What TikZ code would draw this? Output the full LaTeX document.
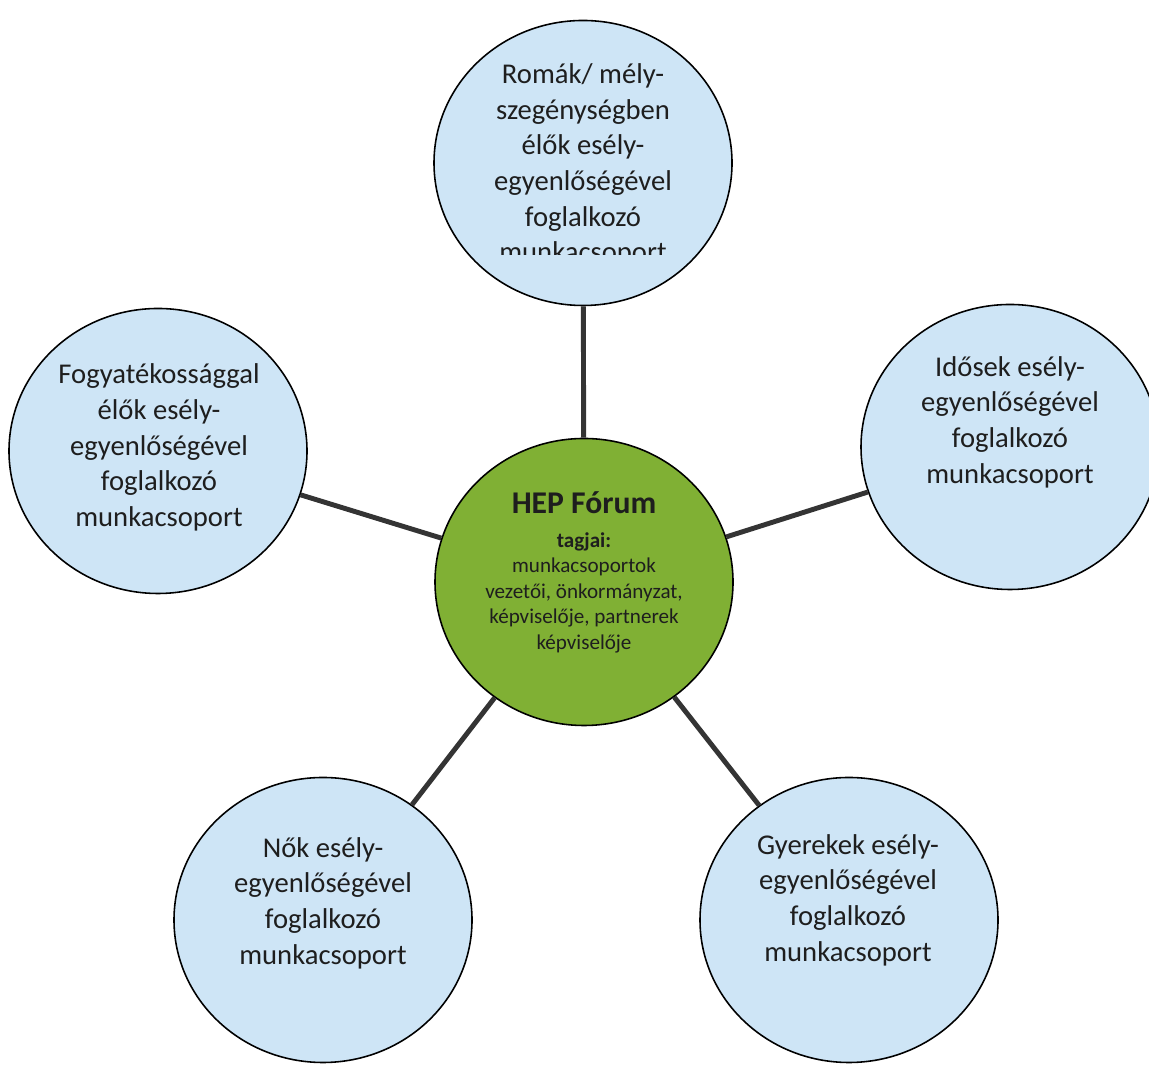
\documentclass[tikz,border=0pt]{standalone}
\usepackage{fontspec}
\setmainfont{Carlito}
\usetikzlibrary{shapes.geometric}

\definecolor{groupBlue}{RGB}{206,229,246}
\definecolor{forumGreen}{RGB}{128,176,52}
\definecolor{linkGray}{RGB}{52,52,52}
\definecolor{textDark}{RGB}{30,30,30}

\tikzset{
	groupCircle/.style={ellipse, draw=black, line width=0.9pt, fill=groupBlue,
		minimum width=5.96cm, minimum height=5.7cm, inner sep=0pt},
	forumCircle/.style={groupCircle, fill=forumGreen, minimum height=5.74cm},
	groupText/.style={align=center, text=textDark, font=\fontsize{16.3}{20.3}\selectfont},
	forumText/.style={align=center, text=textDark, font=\fontsize{12}{14.5}\selectfont},
	linkLine/.style={draw=linkGray, line width=2.8pt}
}

\begin{document}
\begin{tikzpicture}
		\useasboundingbox (0,0) rectangle (22.98,21.4);
		\clip (0,0) rectangle (22.98,21.4);
		% circles
		\node[forumCircle] (forum) at (11.68, 9.76) {};
		\node[groupCircle] (roma) at (11.66, 18.14) {};
		\node[groupCircle] (disabled) at (3.16, 12.38) {};
		\node[groupCircle] (elderly) at (20.2, 12.46) {};
		\node[groupCircle] (women) at (6.46, 3.0) {};
		\node[groupCircle] (children) at (16.98, 3.0) {};
		% links
		\foreach \group in {roma, disabled, elderly, women, children}
			\draw[linkLine] (forum) -- (\group);
		% texts
		\node[forumText] (forumText) at (11.68, 9.96)
			{{\fontsize{18}{18}\selectfont\bfseries HEP Fórum}\\[4.8pt]
			 {\bfseries tagjai:}\\ munkacsoportok\\ vezetői, önkormányzat,\\
			 képviselője, partnerek\\ képviselője};
		\begin{scope}
			\clip (8.5, 16.3) rectangle (14.9, 21.4);
			\node[groupText] (romaText) at (11.66, 18.1)
				{Romák/ mély-\\ szegénységben\\ élők esély-\\ egyenlőségével\\ foglalkozó\\ munkacsoport};
		\end{scope}
		\node[groupText] (disabledText) at (3.18, 12.45)
			{Fogyatékossággal\\ élők esély-\\ egyenlőségével\\ foglalkozó\\ munkacsoport};
		\node[groupText] (elderlyText) at (20.2, 12.96)
			{Idősek esély-\\ egyenlőségével\\ foglalkozó\\ munkacsoport};
		\node[groupText] (womenText) at (6.46, 3.34)
			{Nők esély-\\ egyenlőségével\\ foglalkozó\\ munkacsoport};
		\node[groupText] (childrenText) at (16.96, 3.4)
			{Gyerekek esély-\\ egyenlőségével\\ foglalkozó\\ munkacsoport};
\end{tikzpicture}
\end{document}
